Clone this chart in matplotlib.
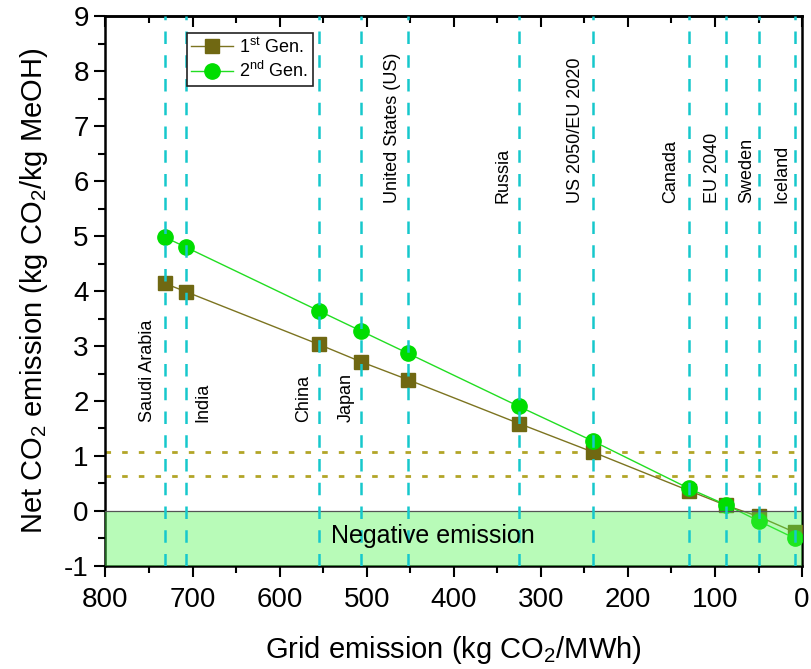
import matplotlib.pyplot as plt
import numpy as np

plt.rcParams['font.family'] = ['Liberation Sans', 'DejaVu Sans']
plt.rcParams['mathtext.fontset'] = 'custom'
plt.rcParams['mathtext.rm'] = 'Liberation Sans'
plt.rcParams['mathtext.default'] = 'regular'
plt.rcParams['axes.unicode_minus'] = False

# Grid emission of each region (kg CO2/MWh)
regions = ['Saudi Arabia', 'India', 'China', 'Japan', 'United States (US)', 'Russia',
           'US 2050/EU 2020', 'Canada', 'EU 2040', 'Sweden', 'Iceland']
grid = [732, 708, 555, 506, 453, 325, 240, 130, 87, 50, 8]

# Net CO2 emission (kg CO2/kg MeOH)
gen1 = [4.14, 3.99, 3.03, 2.71, 2.39, 1.59, 1.07, 0.37, 0.10, -0.10, -0.39]
gen2 = [4.98, 4.80, 3.64, 3.27, 2.87, 1.90, 1.27, 0.41, 0.11, -0.18, -0.50]

# label placement: low group or high group, offset from the line (data units)
label_low = [True, True, True, True, False, False, False, False, False, False, False]
label_off = [20, -20, 17, 17, 17, 19, 20, 21, 16, 14, 15]

ref_levels = [1.07, 0.63]

fig = plt.figure(figsize=(8.11, 6.69), dpi=100)
ax = fig.add_axes([0.130, 0.154, 0.859, 0.822])

ax.set_xlim(800, 0)
ax.set_ylim(-1, 9)

# negative emission region (drawn over the markers, semi transparent)
ax.axhspan(-1, 0, facecolor=(78/255, 245/255, 78/255), alpha=0.4, edgecolor='none', zorder=6)
ax.axhline(0, color='#555555', lw=0.9, zorder=6)
ax.text(424, -0.45, 'Negative emission', fontsize=18, ha='center', va='center', zorder=8)

for g in grid:
    ax.axvline(g, color='#16c8cc', lw=1.8, linestyle=(0, (5, 4.5)), zorder=7)

for lev in ref_levels:
    ax.axhline(lev, color='#b2a527', lw=2, linestyle=(0, (2, 4)), zorder=2)

ax.plot(grid, gen1, '-', color='#7c7420', lw=1, marker='s', ms=10,
        mfc='#706812', mec='#706812', label='1$^{st}$ Gen.', zorder=4)
ax.plot(grid, gen2, '-', color='#22dd22', lw=1, marker='o', ms=11,
        mfc='#00dd00', mec='#00dd00', label='2$^{nd}$ Gen.', zorder=5)

for name, g, low, off in zip(regions, grid, label_low, label_off):
    y0 = 1.62 if low else 5.6
    ax.text(g + off, y0, name, rotation=90, ha='center', va='bottom',
            fontsize=13, zorder=8)

ax.set_xticks(np.arange(800, -1, -100))
ax.set_xticks(np.arange(750, 0, -100), minor=True)
ax.set_yticks(np.arange(-1, 10, 1))
ax.set_yticks(np.arange(-0.5, 9, 1), minor=True)

ax.tick_params(axis='both', which='major', labelsize=20, length=8, width=1.5, direction='out')
ax.tick_params(axis='both', which='minor', length=5, width=1.5, direction='out')
ax.tick_params(axis='x', pad=7)
ax.tick_params(axis='y', pad=4)

for s in ax.spines.values():
    s.set_linewidth(1.8)

# inward ticks on top
axt = ax.secondary_xaxis('top')
axt.set_xticks(np.arange(800, -1, -100))
axt.set_xticks(np.arange(750, 0, -100), minor=True)
axt.tick_params(which='major', direction='in', length=8, width=1.5, labeltop=False)
axt.tick_params(which='minor', direction='in', length=5, width=1.5)
axt.spines['top'].set_linewidth(1.8)

ax.set_xlabel('Grid emission (kg CO$_2$/MWh)', fontsize=21, labelpad=15)
ax.set_ylabel('Net CO$_2$ emission (kg CO$_2$/kg MeOH)', fontsize=21, labelpad=10)

leg = ax.legend(loc='upper left', bbox_to_anchor=(0.117, 0.97), borderaxespad=0,
                fontsize=13, fancybox=False, edgecolor='#222222', framealpha=1,
                handlelength=2.3, handletextpad=0.35, borderpad=0.25, labelspacing=0.25)
leg.get_frame().set_linewidth(1.2)
leg.set_zorder(10)

fig.savefig('out.png', dpi=100)
